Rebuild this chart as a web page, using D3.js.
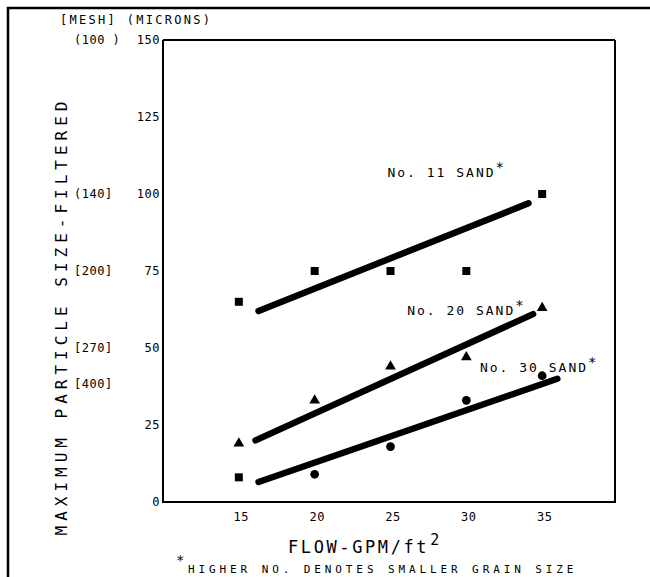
<!DOCTYPE html>
<html>
<head>
<meta charset="utf-8">
<script src="https://cdn.jsdelivr.net/npm/d3@7"></script>
<style>
  body { margin: 0; background: #fff; }
  text { font-family: "DejaVu Sans Mono", monospace; fill: #000; }
</style>
</head>
<body>
<div id="chart"></div>
<script>
// flow rate, gpm/ft2
var flows = [15, 20, 25, 30, 35]
var x_ticks = [15, 20, 25, 30, 35]
var y_ticks = [0, 25, 50, 75, 100, 125, 150]
// mesh equivalents shown left of micron ticks
var mesh_labels = ["(100 )", "(140]", "[200]", "[270]", "[400]"]
var mesh_values = [150, 100, 75, 50, 38.5]

var sand11 = [65, 75, 75, 75, 100]
var sand20 = [19, 33, 44, 47, 63]
var sand30 = [8, 9, 18, 33, 41]
var sand30_shapes = ["square", "circle", "circle", "circle", "circle"]

// fitted lines [x0, y0, x1, y1]
var fit11 = [16.3, 62, 34.1, 97]
var fit20 = [16.1, 20, 34.4, 61]
var fit30 = [16.3, 6.5, 36, 40]

var series_names = ["No. 11 SAND", "No. 20 SAND", "No. 30 SAND"]

var width = 650, height = 577;
var plot = { "left": 163, "right": 615, "top": 40, "bottom": 502 };

var svg = d3.select("#chart").append("svg")
    .attr("width", width)
    .attr("height", height)

var x_scale = d3.scaleLinear().domain([10, 40]).range([plot.left, plot.left + 455]);
var y_scale = d3.scaleLinear().domain([0, 150]).range([plot.bottom, plot.top]);

// outer frame (top & left only)
svg.append("path")
    .attr("d", "M8,577 L8,8 L650,8")
    .attr("fill", "none")
    .attr("stroke", "#000")
    .attr("stroke-width", 2.5)

// plot box
var ax_left = svg.append("g").attr("transform", "translate(" + plot.left + ",0)")
    .call(d3.axisLeft(y_scale).tickValues(y_ticks).tickSize(0).tickPadding(3))
var ax_bottom = svg.append("g").attr("transform", "translate(0," + plot.bottom + ")")
    .call(d3.axisBottom(x_scale).tickValues(x_ticks).tickSize(0).tickPadding(10))
svg.append("line")
    .attr("x1", plot.left).attr("x2", plot.right)
    .attr("y1", plot.top).attr("y2", plot.top)
    .attr("stroke", "#000").attr("stroke-width", 1.8)
svg.append("line")
    .attr("x1", plot.right).attr("x2", plot.right)
    .attr("y1", plot.top).attr("y2", plot.bottom + 1)
    .attr("stroke", "#000").attr("stroke-width", 2)

ax_left.select(".domain").attr("d", "M0," + plot.top + "V" + (plot.bottom + 1)).attr("stroke-width", 2)
ax_bottom.select(".domain").attr("d", "M" + (plot.left - 1) + ",0H" + plot.right).attr("stroke-width", 2.2)
svg.selectAll(".tick text")
    .style("font-family", "DejaVu Sans Mono, monospace")
    .style("font-size", "12px")
    .style("letter-spacing", "0.5px")
ax_bottom.selectAll(".tick text").attr("dx", 2)

// mesh labels
svg.selectAll(".mesh").data(mesh_labels)
    .enter().append("text")
    .attr("class", "mesh")
    .attr("x", 74)
    .attr("y", function (d, i) { return y_scale(mesh_values[i]); })
    .attr("dy", "0.35em")
    .style("font-size", "12px")
    .style("letter-spacing", "0.5px")
    .text(function (d) { return d; })

// header
svg.append("text")
    .attr("x", 60).attr("y", 24)
    .style("font-size", "12px")
    .style("letter-spacing", "2.3px")
    .text("[MESH] (MICRONS)")

// y label
svg.append("text")
    .attr("transform", "translate(67,316) rotate(-90)")
    .attr("text-anchor", "middle")
    .style("font-size", "16px")
    .style("letter-spacing", "5px")
    .text("MAXIMUM PARTICLE SIZE-FILTERED")

// x label
var xl = svg.append("text")
    .attr("x", 288).attr("y", 553)
    .style("font-size", "17px")
    .style("letter-spacing", "2.6px")
    .text("FLOW-GPM/ft")
svg.append("text")
    .attr("x", 288 + xl.node().getComputedTextLength() + 1).attr("y", 545)
    .style("font-size", "15px")
    .text("2")

// footnote
svg.append("text")
    .attr("x", 176).attr("y", 565)
    .style("font-size", "14px")
    .text("*")
svg.append("text")
    .attr("x", 188).attr("y", 573)
    .style("font-size", "11px")
    .style("letter-spacing", "3.9px")
    .text("HIGHER NO. DENOTES SMALLER GRAIN SIZE")

// fit lines
var fits = [fit11, fit20, fit30];
svg.selectAll(".fit").data(fits)
    .enter().append("line")
    .attr("class", "fit")
    .attr("x1", function (d) { return x_scale(d[0]); })
    .attr("y1", function (d) { return y_scale(d[1]); })
    .attr("x2", function (d) { return x_scale(d[2]); })
    .attr("y2", function (d) { return y_scale(d[3]); })
    .attr("stroke", "#000")
    .attr("stroke-width", 6.5)
    .attr("stroke-linecap", "round")

// markers
var sq = d3.symbol().type(d3.symbolSquare).size(64);
var tri = d3.symbol().type(d3.symbolTriangle).size(50);
var circ = d3.symbol().type(d3.symbolCircle).size(60);

svg.selectAll(".p11").data(sand11)
    .enter().append("path")
    .attr("d", sq)
    .attr("transform", function (d, i) { return "translate(" + x_scale(flows[i]) + "," + y_scale(d) + ")"; })
svg.selectAll(".p20").data(sand20)
    .enter().append("path")
    .attr("d", tri)
    .attr("transform", function (d, i) { return "translate(" + x_scale(flows[i]) + "," + y_scale(d) + ")"; })
svg.selectAll(".p30").data(sand30)
    .enter().append("path")
    .attr("d", function (d, i) { return sand30_shapes[i] == "square" ? sq() : circ(); })
    .attr("transform", function (d, i) { return "translate(" + x_scale(flows[i]) + "," + y_scale(d) + ")"; })

// series labels
var label_pos = [[24.8, 105.5], [26.1, 60.7], [30.9, 42.2]];
series_names.forEach(function (name, i) {
    var lx = x_scale(label_pos[i][0]), ly = y_scale(label_pos[i][1]);
    var t = svg.append("text")
        .attr("x", lx)
        .attr("y", ly)
        .style("font-size", "13px")
        .style("letter-spacing", "2px")
        .text(name)
    svg.append("text")
        .attr("x", lx + t.node().getComputedTextLength())
        .attr("y", ly - 5)
        .style("font-size", "14px")
        .text("*")
})
</script>
</body>
</html>
